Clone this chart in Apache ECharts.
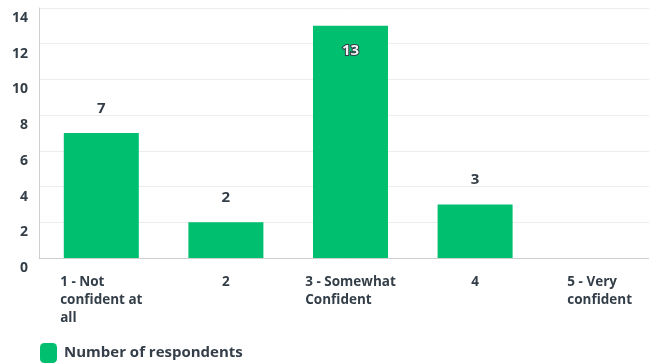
<!DOCTYPE html>
<html><head><meta charset="utf-8">
<script src="https://cdn.jsdelivr.net/npm/echarts@6/dist/echarts.min.js"></script>
<style>html,body{margin:0;padding:0;background:#fff;overflow:hidden;width:649px;height:364px}#c{width:665px;height:364px}</style>
</head><body><div id="c"></div>
<script>
var categories = ['1 - Not\nconfident at\nall', '2', '3 - Somewhat\nConfident', '4', '5 - Very\nconfident'];
var respondents = [7, 2, 13, 3, 0];
var seriesName = 'Number of respondents';
var yTicks = [0, 2, 4, 6, 8, 10, 12, 14];

var FONT = '"Open Sans", sans-serif';
var TEXT = '#333e48';
var chart = echarts.init(document.getElementById('c'), null, {renderer: 'canvas'});
chart.setOption({
  animation: false,
  grid: {left: 39, top: 8, width: 623, height: 250, containLabel: false},
  legend: {
    show: true, left: 40, top: 343, padding: 0, icon: 'roundRect', itemWidth: 17, itemHeight: 20, itemGap: 10,
    textStyle: {fontFamily: FONT, fontWeight: 'bold', fontSize: 15, color: TEXT, padding: [0,0,0,2]},
    data: [seriesName]
  },
  xAxis: {
    type: 'category', data: categories,
    axisLine: {lineStyle: {color: '#cfcfcf', width: 1}},
    axisTick: {show: false},
    axisLabel: {
      margin: 15, interval: 0,
      formatter: function (v) {
        return v.split('\n').map(function (s) { return '{a|' + s + '}'; }).join('\n');
      },
      rich: {a: {align: 'left', fontFamily: FONT, fontWeight: 'bold', fontSize: 13.5, color: TEXT, lineHeight: 18}}
    }
  },
  yAxis: {
    type: 'value', min: 0, max: 14, interval: 2,
    axisLine: {show: true, lineStyle: {color: '#cfcfcf', width: 1}},
    axisTick: {show: false},
    splitLine: {lineStyle: {color: '#ececec', width: 1}},
    axisLabel: {
      margin: 11, verticalAlign: 'top', padding: [3, 0, 0, 0],
      fontFamily: FONT, fontWeight: 'bold', fontSize: 14, color: TEXT,
      formatter: function (v) { return yTicks.indexOf(v) >= 0 ? String(v) : ''; }
    }
  },
  series: [{
    name: seriesName, type: 'bar', barWidth: 75,
    itemStyle: {color: '#00bf6f'},
    data: respondents.map(function (v, i) {
      var d = {value: v};
      if (v === 0) d.label = {show: false};
      if (v >= 13) d.label = {position: 'insideTop', distance: 17, color: '#f2f2f2', textBorderColor: '#333e48', textBorderWidth: 2};
      return d;
    }),
    label: {show: true, position: 'top', distance: 17, fontFamily: FONT, fontWeight: 'bold', fontSize: 15, color: TEXT}
  }]
});
</script></body></html>
